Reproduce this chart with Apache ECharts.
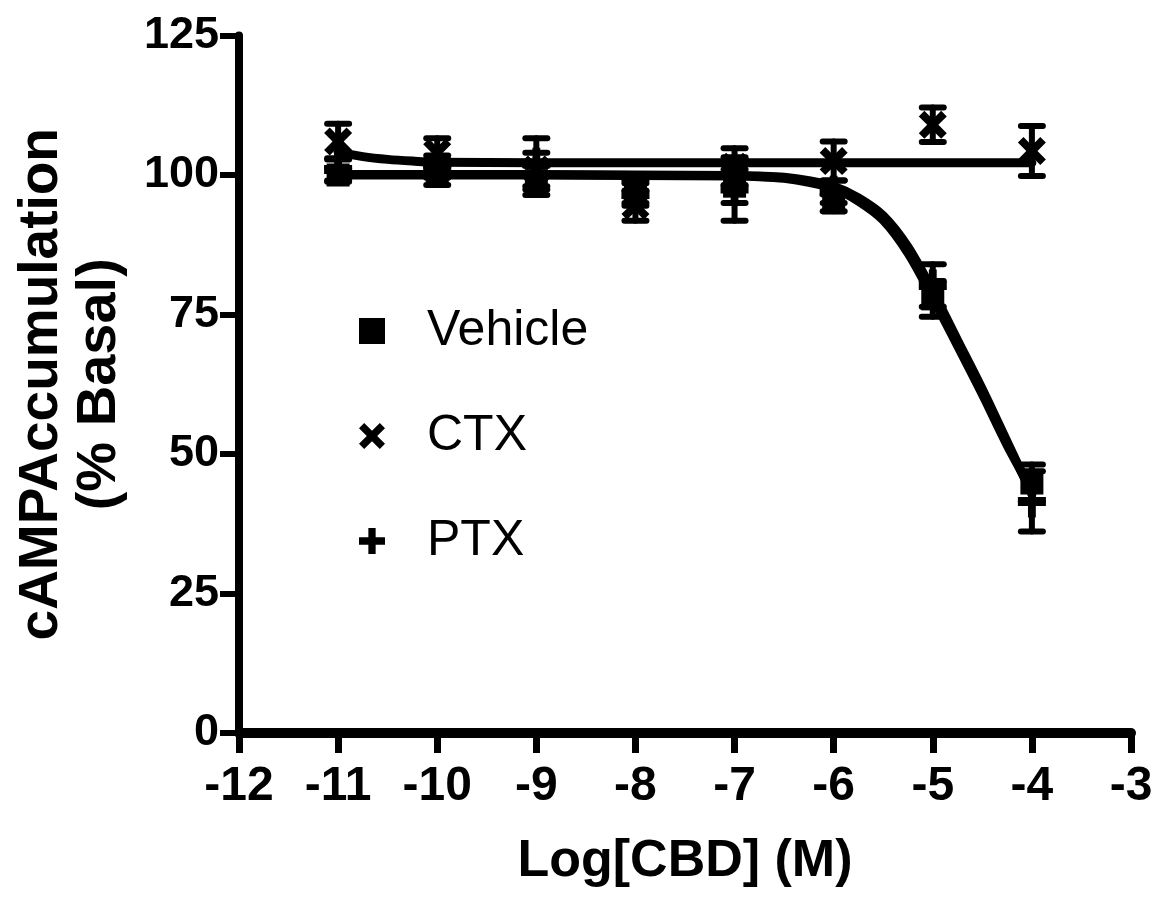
<!DOCTYPE html>
<html>
<head>
<meta charset="utf-8">
<script src="https://cdn.jsdelivr.net/npm/echarts@6/dist/echarts.min.js"></script>
<style>html,body{margin:0;padding:0;background:#fff}#c{width:1159px;height:902px}</style>
</head>
<body>
<div id="c"></div>
<script>
// ---- data ----
const logDose = [-11, -10, -9, -8, -7, -6, -5, -4];
const vehicle = [100, 100.5, 99, 97, 98, 95, 77.8, 44.8];
const vehicleErr = [1.2, 2.3, 2.6, 2.0, 3.0, 1.5, 3.2, 3.3];
const ctx = [106, 104, 101, 94.5, 101.5, 102.5, 109, 104.3];
const ctxErr = [3.2, 2.6, 3.0, 2.7, 3.3, 3.5, 3.1, 4.5];
const ptx = [101, 101.5, 102, 96.5, 97.5, 97, 80.2, 41.5];
const ptxErr = [2.0, 2.0, 4.6, 2.0, 5.7, 2.0, 3.8, 5.4];

// fitted curves
const fitX = [-11, -10, -9, -8, -7, -6.75, -6.5, -6.25, -6, -5.75, -5.5, -5.25, -5, -4.75, -4.5, -4.25, -4];
const vehicleFit = [100.0, 100.0, 100.0, 99.9, 99.8, 99.7, 99.4, 98.7, 97.6, 95.3, 91.9, 86.0, 78.0, 69.4, 60.7, 51.6, 43.5];
const ptxFit = [100.1, 100.1, 100.1, 100.0, 99.9, 99.8, 99.6, 99.0, 98.0, 95.9, 92.7, 87.1, 79.2, 70.4, 61.6, 52.2, 42.8];
const ctxFitX = [-11, -10.75, -10.5, -10.25, -10, -9, -8, -7, -6, -5, -4];
const ctxFit = [104.1, 103.3, 102.8, 102.5, 102.3, 102.2, 102.2, 102.2, 102.2, 102.2, 102.2];

const xTicks = {min: -12, max: -3, step: 1};
const yTicks = {min: 0, max: 125, step: 25};

const legendNames = ['Vehicle', 'CTX', 'PTX'];

// ---- symbols ----
const xPath = 'path://M0,20 L20,0 L50,30 L80,0 L100,20 L70,50 L100,80 L80,100 L50,70 L20,100 L0,80 L30,50 Z';
const plusPath = 'path://M36,0 H64 V36 H100 V64 H64 V100 H36 V64 H0 V36 H36 Z';

function pairs(xs, ys) { return xs.map((x, i) => [x, ys[i]]); }
function triples(xs, ys, es) { return xs.map((x, i) => [x, ys[i], es[i]]); }

function errorBars(name, xs, ys, es) {
  return {
    type: 'custom',
    name: name + ' SEM',
    silent: true,
    z: 3,
    data: triples(xs, ys, es),
    renderItem: function (params, api) {
      const x = api.value(0), y = api.value(1), e = api.value(2);
      const top = api.coord([x, y + e]);
      const bot = api.coord([x, y - e]);
      const h = 11;
      const st = {stroke: '#000', lineWidth: 6, lineCap: 'round'};
      return {
        type: 'group',
        children: [
          {type: 'line', shape: {x1: top[0], y1: top[1], x2: bot[0], y2: bot[1]}, style: st},
          {type: 'line', shape: {x1: top[0] - h, y1: top[1], x2: top[0] + h, y2: top[1]}, style: st},
          {type: 'line', shape: {x1: bot[0] - h, y1: bot[1], x2: bot[0] + h, y2: bot[1]}, style: st}
        ]
      };
    }
  };
}

function fitLine(name, xs, ys) {
  return {
    type: 'line', name: name, data: pairs(xs, ys), smooth: 0.3, showSymbol: false,
    silent: true, z: 2,
    lineStyle: {color: '#000', width: 9, join: 'round', cap: 'round'}
  };
}

const FONT = 'Liberation Sans, Arial, sans-serif';
const chart = echarts.init(document.getElementById('c'), null, {renderer: 'canvas'});
const option = {
  backgroundColor: '#fff',
  animation: false,
  grid: {left: 239, right: 28, top: 35.5, bottom: 169, containLabel: false},
  legend: {
    orient: 'vertical', left: 354, top: 301,
    itemWidth: 26, itemHeight: 26, itemGap: 55,
    selectedMode: false,
    itemStyle: {color: '#000', opacity: 1},
    textStyle: {fontSize: 50, fontFamily: FONT, color: '#000', lineHeight: 50, padding: [0, 0, 0, 37]},
    data: [
      {name: legendNames[0], icon: 'rect'},
      {name: legendNames[1], icon: xPath},
      {name: legendNames[2], icon: plusPath}
    ]
  },
  xAxis: {
    type: 'value', min: xTicks.min, max: xTicks.max, interval: xTicks.step,
    name: 'Log[CBD] (M)', nameLocation: 'middle', nameGap: 103, nameMoveOverlap: false,
    nameTextStyle: {fontSize: 52, fontWeight: 'bold', fontFamily: FONT, color: '#000'},
    axisLine: {lineStyle: {color: '#000', width: 10}},
    axisTick: {length: 20, lineStyle: {color: '#000', width: 7}},
    splitLine: {show: false},
    axisLabel: {fontSize: 48, fontWeight: 'bold', fontFamily: FONT, color: '#000', margin: 30}
  },
  yAxis: {
    type: 'value', min: yTicks.min, max: yTicks.max, interval: yTicks.step,
    name: '{a|cAMPAccumulation}\n{b|(% Basal)}', nameLocation: 'middle', nameGap: 109, nameRotate: 90,
    nameMoveOverlap: false,
    nameTextStyle: {
      fontWeight: 'bold', fontFamily: FONT, color: '#000',
      rich: {
        a: {fontSize: 55, lineHeight: 56, fontWeight: 'bold', fontFamily: FONT, color: '#000'},
        b: {fontSize: 56, lineHeight: 60, fontWeight: 'bold', fontFamily: FONT, color: '#000'}
      }
    },
    axisLine: {lineStyle: {color: '#000', width: 8}},
    axisTick: {length: 19, lineStyle: {color: '#000', width: 6}},
    splitLine: {show: false},
    axisLabel: {fontSize: 45, fontWeight: 'bold', fontFamily: FONT, color: '#000', margin: 20}
  },
  series: [
    fitLine('Vehicle fit', fitX, vehicleFit),
    fitLine('PTX fit', fitX, ptxFit),
    fitLine('CTX fit', ctxFitX, ctxFit),
    errorBars('Vehicle', logDose, vehicle, vehicleErr),
    errorBars('CTX', logDose, ctx, ctxErr),
    errorBars('PTX', logDose, ptx, ptxErr),
    {type: 'scatter', name: 'Vehicle', data: pairs(logDose, vehicle), symbol: 'rect', symbolSize: 23, z: 4,
     itemStyle: {color: '#000', opacity: 1}},
    {type: 'scatter', name: 'CTX', data: pairs(logDose, ctx), symbol: xPath, symbolSize: 28, z: 4,
     itemStyle: {color: '#000', opacity: 1}},
    {type: 'scatter', name: 'PTX', data: pairs(logDose, ptx), symbol: plusPath, symbolSize: [28, 32], z: 4,
     itemStyle: {color: '#000', opacity: 1}}
  ]
};
chart.setOption(option);
</script>
</body>
</html>
